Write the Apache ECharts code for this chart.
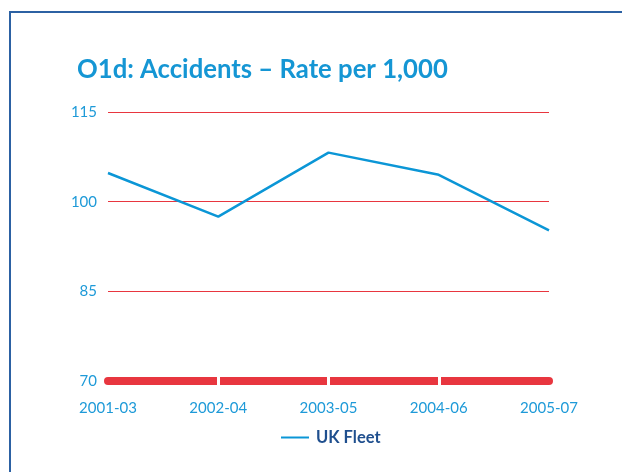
<!DOCTYPE html>
<html>
<head>
<meta charset="utf-8">
<script src="https://cdn.jsdelivr.net/npm/echarts@6/dist/echarts.min.js"></script>
<style>
  html, body { margin: 0; padding: 0; background: #ffffff; }
  #chart { width: 622px; height: 472px; }
</style>
</head>
<body>
<div id="chart"></div>
<script>
// Accident rate per 1,000 vehicles, UK fleet, by reporting period
const periods = ['2001-03', '2002-04', '2003-05', '2004-06', '2005-07'];
const ukFleet = [104.8, 97.5, 108.2, 104.5, 95.2];
const yTicks = [70, 85, 100, 115];

const chart = echarts.init(document.getElementById('chart'), null, { renderer: 'canvas' });

const blue = '#0b96d6';
const red = '#e8363f';

// white separators only between segments, never on the rounded ends
const innerTick = (i) => i > 0 && i < periods.length - 1;

chart.setOption({
  animation: false,
  backgroundColor: '#ffffff',
  title: {
    text: 'O1d: Accidents \u2013 Rate per 1,000',
    left: 72,
    top: 52,
    textStyle: {
      fontFamily: 'Lato',
      fontWeight: 'bold',
      fontSize: 25.7,
      color: '#1596d4'
    }
  },
  graphic: [
    {
      type: 'polyline',
      shape: { points: [[10, 480], [10, 12], [640, 12]] },
      style: { stroke: '#2c61a3', lineWidth: 2, fill: null }
    }
  ],
  legend: {
    bottom: 21,
    left: 276,
    itemWidth: 28,
    itemHeight: 10,
    itemGap: 6,
    icon: 'path://M0,4 L28,4 L28,6 L0,6 Z',
    data: ['UK Fleet'],
    textStyle: {
      fontFamily: 'Lato',
      fontWeight: 'bold',
      fontSize: 16.5,
      color: '#1f4f8e',
      padding: [0, 0, 0, 2]
    }
  },
  grid: { left: 108, right: 73, top: 112, bottom: 91, containLabel: false },
  xAxis: [
    {
      type: 'category',
      data: periods,
      boundaryGap: false,
      axisLine: { show: true, lineStyle: { color: red, width: 8, cap: 'round' } },
      axisTick: { show: true, interval: innerTick, inside: true, length: 5, lineStyle: { color: '#ffffff', width: 3 } },
      axisLabel: {
        margin: 20,
        fontFamily: 'Lato',
        fontSize: 15,
        color: '#1e9ad8'
      },
      splitLine: { show: false },
      z: 3
    },
    {
      // companion axis: finishes the white tick gaps below the thick baseline
      type: 'category',
      data: periods,
      position: 'bottom',
      boundaryGap: false,
      axisLine: { show: false },
      axisTick: { show: true, interval: innerTick, inside: false, length: 5, lineStyle: { color: '#ffffff', width: 3 } },
      axisLabel: { show: false },
      splitLine: { show: false },
      z: 4
    }
  ],
  yAxis: {
    type: 'value',
    min: 70,
    max: 115,
    interval: 15,
    axisLine: { show: false },
    axisTick: { show: false },
    axisLabel: {
      margin: 11,
      fontFamily: 'Lato',
      fontSize: 15,
      color: '#1e9ad8',
      customValues: yTicks
    },
    splitLine: { show: true, lineStyle: { color: red, width: 1 } }
  },
  series: [
    {
      name: 'UK Fleet',
      type: 'line',
      data: ukFleet,
      symbol: 'none',
      lineStyle: { color: blue, width: 2.5 },
      itemStyle: { color: blue },
      z: 2
    }
  ]
});
</script>
</body>
</html>
